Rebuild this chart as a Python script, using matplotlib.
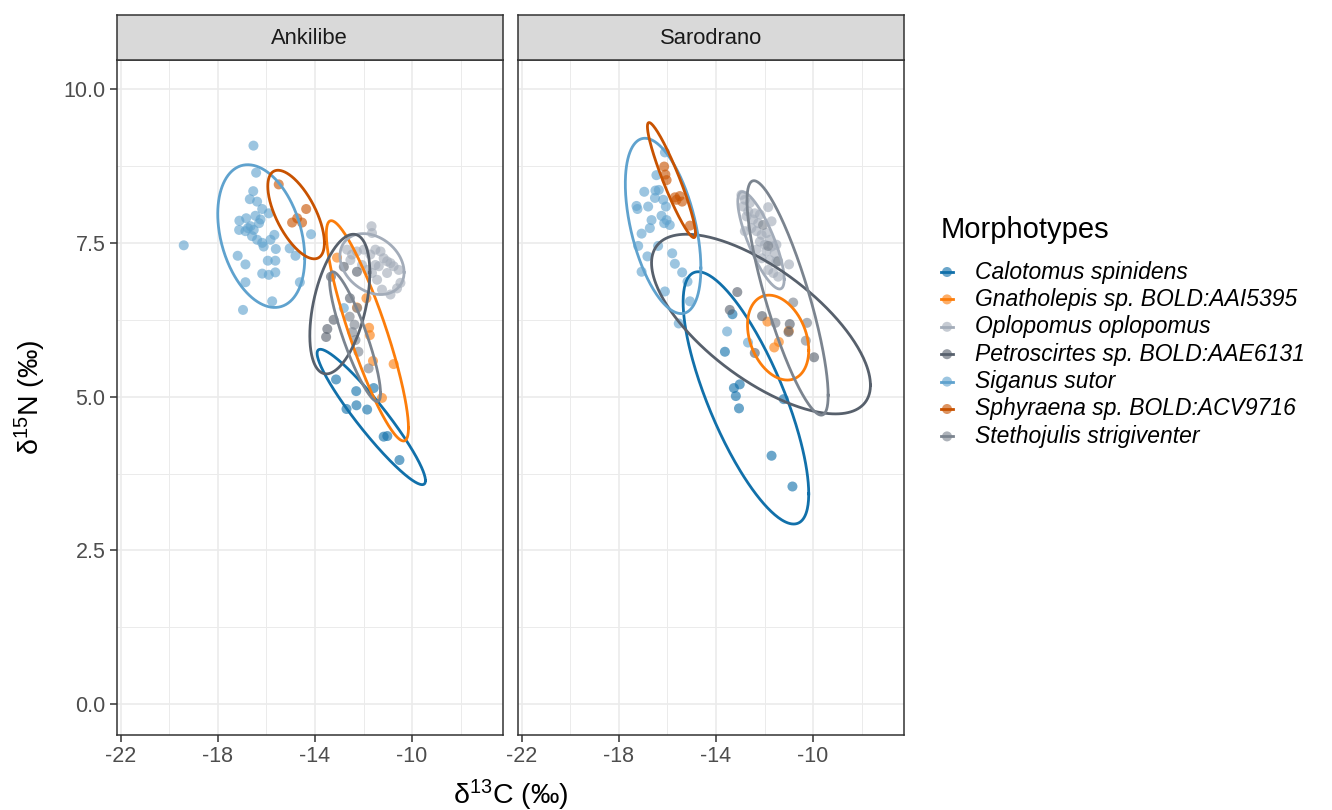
import numpy as np
import matplotlib
matplotlib.use("Agg")
import matplotlib.pyplot as plt
from matplotlib.lines import Line2D

plt.rcParams['font.family'] = ['Liberation Sans', 'DejaVu Sans']
plt.rcParams['mathtext.fontset'] = 'custom'
plt.rcParams['mathtext.rm'] = 'Liberation Sans'
plt.rcParams['mathtext.it'] = 'Liberation Sans:italic'

# ---------------- data ----------------
species = ["Calotomus spinidens", "Gnatholepis sp. BOLD:AAI5395", "Oplopomus oplopomus",
           "Petroscirtes sp. BOLD:AAE6131", "Siganus sutor", "Sphyraena sp. BOLD:ACV9716",
           "Stethojulis strigiventer"]
colors = ["#1170aa", "#fc7d0b", "#a3acb9", "#57606c", "#5fa2ce", "#c85200", "#7b848f"]
sites = ["Ankilibe", "Sarodrano"]

x_ticks = [-22, -18, -14, -10]
y_ticks = [0.0, 2.5, 5.0, 7.5, 10.0]

# Ankilibe
ank_calotomus_x = [-13.13, -12.30, -11.58, -12.70, -12.29, -11.85, -11.17, -11.02, -10.52]
ank_calotomus_y = [5.28, 5.09, 5.14, 4.80, 4.86, 4.79, 4.35, 4.36, 3.97]
ank_gnatholepis_x = [-13.09, -12.27, -11.88, -11.77, -11.74, -11.61, -10.76, -11.24]
ank_gnatholepis_y = [7.26, 6.45, 6.60, 6.12, 6.00, 5.58, 5.53, 4.98]
ank_oplopomus_x = [-11.67, -11.65, -12.68, -12.47, -12.27, -11.99, -11.72, -11.51, -11.30, -11.17,
                   -11.03, -10.89, -10.76, -10.55, -10.48, -10.62, -10.89, -11.24, -11.44, -11.65,
                   -11.85, -12.06, -12.54, -11.37, -11.03, -11.51]
ank_oplopomus_y = [7.77, 7.66, 7.39, 7.31, 7.36, 7.39, 7.31, 7.39, 7.36, 7.25,
                   7.20, 7.17, 7.12, 7.06, 6.85, 6.76, 6.66, 6.74, 6.90, 7.01,
                   7.06, 7.14, 7.22, 7.12, 7.01, 7.14]
ank_petroscirtes_x = [-12.81, -12.27, -13.34, -12.56, -13.23, -13.49, -13.54]
ank_petroscirtes_y = [7.11, 7.03, 6.95, 6.60, 6.25, 6.10, 5.97]
ank_siganus_x = [-16.53, -16.42, -16.54, -16.68, -16.38, -16.17, -15.90, -17.11, -16.83, -16.45,
                 -16.30, -16.24, -17.12, -16.76, -16.65, -16.52, -16.86, -16.59, -16.38, -16.17,
                 -16.11, -15.83, -15.67, -15.61, -15.94, -15.63, -17.18, -16.86, -16.17, -15.90,
                 -15.63, -16.86, -15.76, -16.96, -19.40, -15.04, -14.80, -14.62, -14.16, -12.81]
ank_siganus_y = [9.08, 8.64, 8.34, 8.21, 8.17, 8.05, 7.98, 7.86, 7.90, 7.94,
                 7.82, 7.88, 7.71, 7.74, 7.77, 7.71, 7.69, 7.61, 7.55, 7.50,
                 7.44, 7.55, 7.63, 7.40, 7.21, 7.21, 7.29, 7.15, 7.00, 6.98,
                 7.02, 6.86, 6.55, 6.41, 7.46, 7.41, 7.29, 6.86, 7.64, 6.44]
ank_sphyraena_x = [-15.49, -14.36, -14.94, -14.73, -14.53]
ank_sphyraena_y = [8.45, 8.05, 7.83, 7.90, 7.83]
ank_stethojulis_x = [-12.57, -12.37, -12.46, -12.33, -11.79, -12.26, -12.21]
ank_stethojulis_y = [6.30, 6.17, 6.05, 5.92, 5.46, 6.44, 5.73]

# Sarodrano
sar_calotomus_x = [-13.32, -13.63, -13.02, -13.26, -13.18, -13.05, -11.71, -10.85, -11.21]
sar_calotomus_y = [6.34, 5.73, 5.20, 5.14, 5.01, 4.81, 4.04, 3.54, 4.96]
sar_gnatholepis_x = [-11.88, -11.41, -11.60, -11.00]
sar_gnatholepis_y = [6.22, 5.89, 5.80, 6.07]
sar_oplopomus_x = [-12.95, -12.81, -12.88, -12.60, -12.67, -12.40, -12.19, -12.47, -12.26, -12.54,
                   -12.33, -12.12, -11.92, -11.78, -12.19, -11.99, -11.71, -12.33, -11.92, -11.58,
                   -12.12, -11.78, -11.51, -11.85, -11.64, -11.44, -10.99, -11.85, -12.81, -12.74,
                   -11.71, -11.51]
sar_oplopomus_y = [8.28, 8.20, 8.09, 8.15, 8.01, 7.98, 7.96, 7.88, 7.82, 7.74,
                   7.69, 7.63, 7.66, 7.55, 7.52, 7.47, 7.44, 7.39, 7.36, 7.33,
                   7.25, 7.22, 7.20, 7.06, 7.01, 6.95, 7.15, 8.08, 7.69, 7.93,
                   7.85, 7.47]
sar_petroscirtes_x = [-13.12, -13.43, -12.10, -10.96, -9.96, -12.40, -11.01]
sar_petroscirtes_y = [6.70, 6.41, 6.31, 6.18, 5.64, 5.71, 6.05]
sar_siganus_x = [-16.10, -16.45, -16.95, -16.49, -16.35, -16.51, -16.17, -16.06, -17.27, -17.23,
                 -16.79, -16.65, -16.24, -16.03, -15.90, -16.13, -16.72, -17.06, -17.20, -16.38,
                 -16.82, -15.80, -15.69, -17.06, -15.39, -15.17, -16.10, -15.07, -15.53, -13.54,
                 -12.68]
sar_siganus_y = [8.97, 8.60, 8.33, 8.35, 8.36, 8.23, 8.20, 8.09, 8.10, 8.05,
                 8.09, 7.87, 7.94, 7.87, 7.79, 7.82, 7.74, 7.65, 7.45, 7.45,
                 7.28, 7.33, 7.16, 7.03, 7.02, 6.87, 6.71, 6.55, 6.19, 6.06,
                 5.88]
sar_sphyraena_x = [-16.13, -16.08, -16.03, -15.69, -15.49, -15.39, -15.62, -15.07]
sar_sphyraena_y = [8.74, 8.61, 8.52, 8.24, 8.26, 8.17, 8.20, 7.78]
sar_stethojulis_x = [-12.06, -11.85, -11.44, -11.55, -10.82, -10.25, -10.30]
sar_stethojulis_y = [7.79, 7.45, 7.20, 6.20, 6.53, 6.20, 5.91]

# 95% ellipses: centre, half-extent in x / y, correlation (species order)
ank_ell_cx = [-11.68, -11.84, -11.65, -12.975, -16.21, -14.775, -12.35]
ank_ell_cy = [4.67, 6.07, 7.155, 6.505, 7.61, 7.96, 5.975]
ank_ell_hx = [2.23, 1.69, 1.32, 1.235, 1.79, 1.165, 1.05]
ank_ell_hy = [1.10, 1.79, 0.495, 1.135, 1.16, 0.72, 1.055]
ank_ell_r = [-0.94, -0.88, -0.27, 0.45, -0.31, -0.64, -0.87]

sar_ell_cx = [-12.765, -11.44, -12.145, -12.145, -16.175, -15.83, -11.05]
sar_ell_cy = [4.98, 5.96, 7.54, 6.18, 7.775, 8.52, 6.605]
sar_ell_hx = [2.585, 1.26, 0.955, 4.505, 1.555, 0.99, 1.67]
sar_ell_hy = [2.05, 0.69, 0.79, 1.46, 1.425, 0.935, 1.905]
sar_ell_r = [-0.76, -0.30, -0.80, -0.68, -0.48, -0.93, -0.83]

ank_x = [ank_calotomus_x, ank_gnatholepis_x, ank_oplopomus_x, ank_petroscirtes_x,
         ank_siganus_x, ank_sphyraena_x, ank_stethojulis_x]
ank_y = [ank_calotomus_y, ank_gnatholepis_y, ank_oplopomus_y, ank_petroscirtes_y,
         ank_siganus_y, ank_sphyraena_y, ank_stethojulis_y]
sar_x = [sar_calotomus_x, sar_gnatholepis_x, sar_oplopomus_x, sar_petroscirtes_x,
         sar_siganus_x, sar_sphyraena_x, sar_stethojulis_x]
sar_y = [sar_calotomus_y, sar_gnatholepis_y, sar_oplopomus_y, sar_petroscirtes_y,
         sar_siganus_y, sar_sphyraena_y, sar_stethojulis_y]

# ---------------- figure ----------------
W, H = 1332, 810
fig = plt.figure(figsize=(W / 100, H / 100), dpi=100)
fig.patch.set_facecolor("white")


def rect(x0, y0, x1, y1):
    return [x0 / W, 1 - y1 / H, (x1 - x0) / W, (y1 - y0) / H]


panel_px = [(116.7, 502.7), (517.7, 903.7)]
top_px, bot_px, strip_top = 59.5, 734.7, 15.0
xlim = (-22.16, -6.27)
ylim = (-0.494, 10.48)

site_data = [(ank_x, ank_y, ank_ell_cx, ank_ell_cy, ank_ell_hx, ank_ell_hy, ank_ell_r),
             (sar_x, sar_y, sar_ell_cx, sar_ell_cy, sar_ell_hx, sar_ell_hy, sar_ell_r)]

PT_SIZE = 52
PT_ALPHA = 0.62

t = np.linspace(0, 2 * np.pi, 300)
for k, (x0, x1) in enumerate(panel_px):
    ax = fig.add_axes(rect(x0, top_px, x1, bot_px))
    xs, ys, ecx, ecy, ehx, ehy, er = site_data[k]
    ax.set_xlim(*xlim)
    ax.set_ylim(*ylim)
    ax.set_xticks(x_ticks)
    ax.set_xticks([-20, -16, -12, -8], minor=True)
    ax.set_yticks(y_ticks)
    ax.set_yticks([1.25, 3.75, 6.25, 8.75], minor=True)
    ax.grid(True, which="major", color="#EBEBEB", lw=1.2, zorder=0)
    ax.grid(True, which="minor", color="#EBEBEB", lw=0.7, zorder=0)
    ax.set_axisbelow(True)
    ax.tick_params(which="major", length=5, width=1.1, color="#333333",
                   labelsize=15.5, labelcolor="#4D4D4D", pad=3)
    ax.tick_params(which="minor", length=0)
    ax.set_xticklabels([str(v) for v in x_ticks])
    if k == 0:
        ax.set_yticklabels(["%.1f" % v for v in y_ticks])
    else:
        ax.tick_params(axis="y", which="both", left=False, labelleft=False)
    for s in ax.spines.values():
        s.set_color("#333333")
        s.set_linewidth(1.1)
    for i in range(len(species)):
        ax.scatter(xs[i], ys[i], s=PT_SIZE, color=colors[i], alpha=PT_ALPHA,
                   edgecolors="none", zorder=2)
    for i in range(len(species)):
        r = er[i]
        ex = ecx[i] + ehx[i] * np.cos(t)
        ey = ecy[i] + ehy[i] * (r * np.cos(t) + np.sqrt(1 - r * r) * np.sin(t))
        ax.plot(ex, ey, color=colors[i], lw=2.0, zorder=3)

    sax = fig.add_axes(rect(x0, strip_top, x1, top_px))
    sax.set_facecolor("#D9D9D9")
    sax.set_xticks([])
    sax.set_yticks([])
    for s in sax.spines.values():
        s.set_color("#333333")
        s.set_linewidth(1.1)
    sax.text(0.5, 0.47, sites[k], ha="center", va="center", fontsize=15.8,
             color="#1A1A1A", transform=sax.transAxes)

# axis titles
fig.text(510.5 / W, 1 - 795 / H, r"δ$^{\mathrm{13}}$C (‰)", ha="center", va="center",
         fontsize=20.5, color="black")
fig.text(30 / W, 1 - 397 / H, r"δ$^{\mathrm{15}}$N (‰)", ha="center", va="center",
         fontsize=20.5, color="black", rotation=90)

# legend (manual placement)
lax = fig.add_axes([0, 0, 1, 1])
lax.set_xlim(0, W)
lax.set_ylim(H, 0)
lax.axis("off")
lax.patch.set_alpha(0)
lax.text(940.5, 230, "Morphotypes", ha="left", va="center", fontsize=21, color="black")
for i, name in enumerate(species):
    yc = 272 + i * 27.4
    lax.add_line(Line2D([941, 953], [yc, yc], color=colors[i], lw=2.0))
    lax.scatter([947], [yc], s=PT_SIZE, color=colors[i], alpha=PT_ALPHA, edgecolors="none")
    lax.text(975, yc, name, ha="left", va="center", fontsize=16.5, style="italic",
             color="black")

fig.savefig("out.png", dpi=100)
